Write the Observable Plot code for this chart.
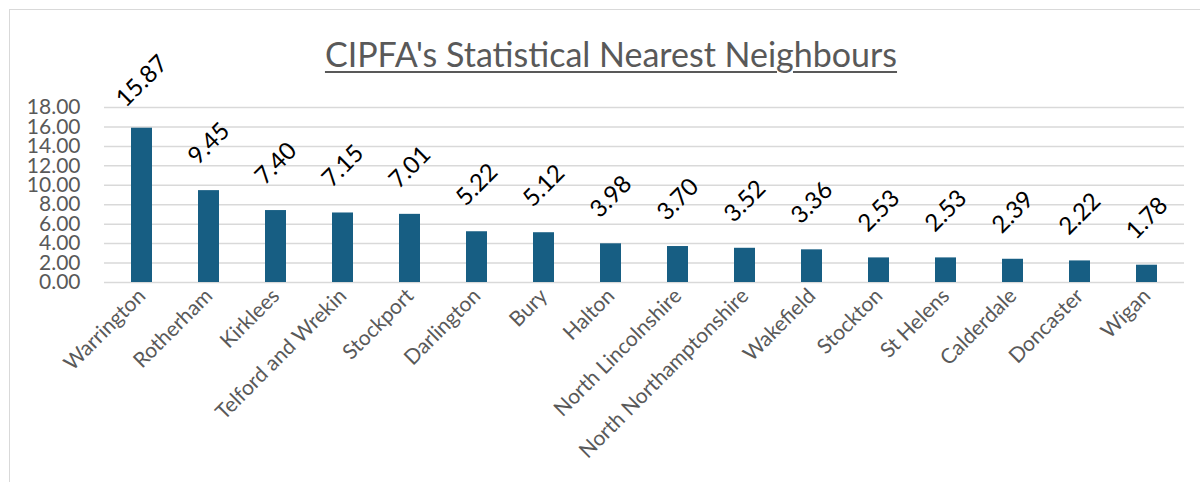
<!DOCTYPE html>
<html><head><meta charset="utf-8">
<script src="https://cdn.jsdelivr.net/npm/d3@7"></script>
<script src="https://cdn.jsdelivr.net/npm/@observablehq/plot@0.6"></script>
<style>
body{margin:0;background:#fff;font-family:Lato,"Open Sans",sans-serif;}
#frame{position:absolute;left:9px;top:9px;width:1200px;height:500px;border-left:1.5px solid #d9d9d9;border-top:1.5px solid #d9d9d9;}
#chart{position:absolute;left:0;top:0;}
#title{position:absolute;left:0;width:1222px;top:37px;text-align:center;font-size:34px;color:#595959;text-decoration:underline;text-decoration-thickness:2px;text-underline-offset:4px;line-height:1;}
</style></head>
<body>
<div id="frame"></div>
<div id="chart"></div>
<div id="title">CIPFA's Statistical Nearest Neighbours</div>
<script>
const areas = ["Warrington","Rotherham","Kirklees","Telford and Wrekin","Stockport","Darlington","Bury","Halton","North Lincolnshire","North Northamptonshire","Wakefield","Stockton","St Helens","Calderdale","Doncaster","Wigan"];
const values = [15.87,9.45,7.40,7.15,7.01,5.22,5.12,3.98,3.70,3.52,3.36,2.53,2.53,2.39,2.22,1.78];
const yTicks = [0,2,4,6,8,10,12,14,16,18];
const data = areas.map((a,i)=>({area:a, value:values[i]}));
const chart = Plot.plot({
  width:1200, height:482,
  marginLeft:104, marginRight:16, marginTop:107, marginBottom:200,
  style:{fontFamily:"Lato, sans-serif", fontSize:"21px", color:"#595959", background:"transparent", overflow:"visible"},
  x:{domain:areas, paddingInner:0.69, paddingOuter:0.345, label:null, tickSize:0, tickRotate:-45, tickPadding:10, fontSize:22},
  y:{domain:[0,18], ticks:yTicks, tickFormat:d=>d.toFixed(2), label:null, tickSize:0, tickPadding:24},
  marks:[
    Plot.gridY(yTicks,{stroke:"#d9d9d9", strokeOpacity:1, strokeWidth:1.5}),
    Plot.barY(data,{x:"area", y:"value", fill:"#175E83"}),
    Plot.text(data,{x:"area", y:"value", text:d=>d.value.toFixed(2), rotate:-45, dy:-47, fontSize:24, fill:"black"})
  ]
});
document.getElementById("chart").appendChild(chart);
</script>
</body></html>
